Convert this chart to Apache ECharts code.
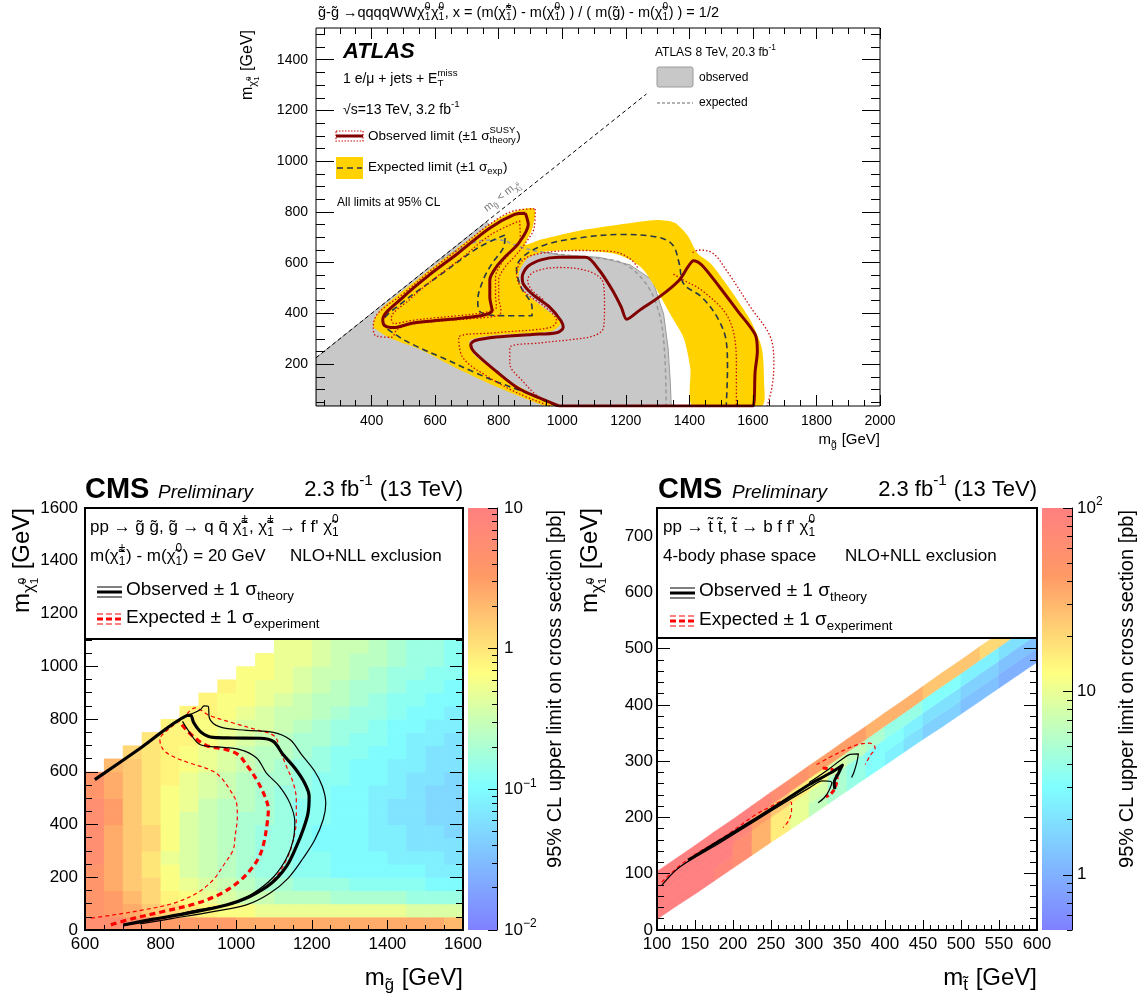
<!DOCTYPE html>
<html>
<head>
<meta charset="utf-8">
<title>SUSY exclusion limits</title>
<script src="https://cdn.jsdelivr.net/npm/echarts@6.0.0/dist/echarts.min.js"></script>
<style>
html,body{margin:0;padding:0;background:#ffffff;}
#chart{width:1145px;height:1005px;}
</style>
</head>
<body>
<div id="chart"></div>
<script>
// ================= DATA (GeV) =================
// ---- ATLAS panel ----
const atlasXTicks = [400, 600, 800, 1000, 1200, 1400, 1600, 1800, 2000];
const atlasYTicks = [200, 400, 600, 800, 1000, 1200, 1400];
const atlas8TeVObsArea = [[225,35],[225,225],[760,760],[877,657],[990,631],[1116,621],[1214,591],[1284,531],[1319,397],[1333,264],[1340,131],[1343,35]];
const atlas8TeVExp = [[600,600],[737,684],[800,690],[863,664],[920,645],[1046,625],[1186,600],[1262,520],[1305,400],[1322,250],[1327,35]];
const atlasExpBand = [[947,35],[793,111],[667,184],[554,257],[456,304],[407,344],[407,371],
  [430,418],[554,543],[695,680],[800,775],[860,806],[905,815],[915,800],[905,731],[884,671],
  [933,691],[1046,724],[1186,751],[1298,768],[1354,757],[1396,704],[1425,637],[1467,597],[1523,504],[1593,371],[1628,264],[1635,131],[1628,35],
  [1411,35],[1403,184],[1382,304],[1340,397],[1298,491],[1256,571],[1214,611],[1158,637],[1046,648],[947,644],[891,617],[863,557],[877,491],[947,417],[996,364],[968,331],[793,315],[709,293],[723,237],[821,144],[933,64],[989,35]];
const atlasExp = [[982,35],[877,91],[793,131],[723,168],[625,224],[540,271],[477,315],[435,364],[484,430],[625,560],[737,660],[821,710],[814,657],[779,597],[751,531],[734,451],[744,404],[821,391],[905,391],[905,424],[870,504],[856,577],[877,624],[947,671],[1074,701],[1186,711],[1298,701],[1347,671],[1368,597],[1382,517],[1439,464],[1488,384],[1516,291],[1520,184],[1516,35]];
const atlasObsLobe = [[884,795],[893,750],[863,677],[821,624],[793,584],[772,531],[772,464],[779,411],[758,395],[681,381],[596,371],[526,361],[470,344],[442,351],[435,375],[500,465],[580,550],[670,635],[770,735],[850,790],[884,795]];
const atlasObsMain = [[989,35],[947,57],[863,104],[793,171],[723,248],[712,277],[726,293],[793,307],[905,317],[982,324],[1003,344],[996,371],[961,424],[905,477],[877,517],[874,544],[891,584],[933,611],[989,621],[1074,621],[1116,571],[1158,491],[1186,424],[1203,377],[1242,411],[1312,471],[1368,531],[1396,584],[1413,608],[1439,591],[1495,504],[1551,411],[1607,317],[1614,251],[1607,171],[1600,35],[989,35]];
const atlasObsUpLobe = [[915,812],[912,740],[884,677],[850,624],[821,584],[800,531],[800,464],[807,411],[800,392],[700,378],[600,368],[526,357],[480,336],[463,306],[414,311],[405,345],[420,400],[500,478],[580,563],[670,650],[770,750],[850,805],[915,812]];
const atlasObsDnLobe = [[866,765],[868,700],[838,640],[810,600],[790,540],[790,470],[793,425],[765,406],[680,392],[596,382],[526,372],[470,360],[462,380],[520,455],[595,535],[680,615],[775,710],[866,765]];
const atlasObsUpMain = [[961,35],[863,84],[765,151],[688,224],[674,304],[793,324],[961,344],[982,371],[947,424],[877,491],[856,557],[877,611],[933,637],[1046,648],[1158,644],[1214,615],[1240,575]];
const atlasObsUpRight = [[1410,640],[1430,650],[1474,637],[1516,571],[1593,424],[1656,304],[1666,197],[1660,110],[1645,35]];
const atlasObsDnMain = [[989,35],[933,64],[877,131],[835,204],[835,264],[933,284],[1031,297],[1102,313],[1130,344],[1133,424],[1130,517],[1088,564],[989,581],[912,564],[891,531],[905,491],[940,455]];
const atlasObsDnRight = [[1350,555],[1382,531],[1439,491],[1516,397],[1544,291],[1548,184],[1548,35]];
const atlasKinLimit = [[225,225],[1265,1265]];

// ---- CMS gluino panel (bottom left) ----
const glXTicks = [600, 800, 1000, 1200, 1400, 1600];
const glYTicks = [0, 200, 400, 600, 800, 1000, 1200, 1400, 1600];
const glBinX = [600,650,700,750,800,850,900,950,1000,1050,1100,1150,1200,1250,1300,1350,1400,1450,1500,1550];
const glBinY = [0,50,100,150,200,250,300,350,400,450,500,550,600,650,700,750,800,850,900,950,1000,1050];
const _ = null;
// log10(limit / pb) x 10, rows from low to high m(chi)
const glLimitRows = [
  [7,7,6,6,5,5,5,5,4,4,4,4,4,4,4,4,4,4,4,3],
  [6,5,4,2,1,0,-1,-2,-2,-3,-3,-3,-3,-3,-3,-3,-3,-4,-4,-4],
  [6,5,3,1,-1,-2,-3,-4,-5,-5,-6,-6,-6,-7,-7,-7,-7,-8,-8,-8],
  [6,4,2,1,-2,-3,-4,-5,-6,-7,-7,-8,-8,-8,-9,-9,-9,-9,-10,-10],
  [6,4,2,0,-2,-4,-5,-6,-7,-8,-8,-9,-9,-10,-10,-10,-10,-10,-11,-11],
  [7,4,2,0,-3,-4,-5,-6,-7,-8,-8,-9,-9,-10,-10,-10,-11,-11,-11,-12],
  [7,4,2,1,-2,-4,-5,-6,-7,-8,-8,-9,-10,-10,-10,-11,-11,-12,-12,-12],
  [7,4,2,1,-2,-4,-5,-6,-7,-8,-8,-9,-10,-10,-10,-11,-11,-12,-12,-13],
  [7,5,2,0,-2,-4,-5,-6,-7,-7,-8,-9,-9,-10,-10,-11,-12,-12,-13,-13],
  [7,5,2,0,-2,-3,-5,-6,-6,-7,-8,-9,-9,-10,-10,-11,-12,-12,-13,-13],
  [6,4,2,0,-2,-3,-4,-5,-6,-7,-8,-8,-9,-10,-10,-11,-11,-12,-13,-13],
  [6,4,2,0,-1,-3,-4,-5,-6,-7,-7,-8,-9,-9,-10,-10,-11,-12,-12,-13],
  [_,3,2,0,-1,-2,-3,-4,-5,-6,-7,-8,-8,-9,-10,-10,-11,-11,-12,-12],
  [_,_,1,0,-1,-2,-3,-4,-5,-6,-6,-7,-8,-9,-9,-10,-10,-11,-12,-12],
  [_,_,_,0,-1,-1,-2,-3,-4,-5,-6,-7,-7,-8,-9,-9,-10,-11,-11,-12],
  [_,_,_,_,-1,-1,-2,-3,-4,-4,-5,-6,-7,-8,-8,-9,-10,-10,-11,-11],
  [_,_,_,_,_,-1,-1,-2,-3,-4,-5,-5,-6,-7,-8,-8,-9,-10,-10,-11],
  [_,_,_,_,_,_,-1,-2,-2,-3,-4,-5,-6,-6,-7,-8,-9,-9,-10,-10],
  [_,_,_,_,_,_,_,-1,-2,-3,-3,-4,-5,-6,-7,-7,-8,-9,-9,-10],
  [_,_,_,_,_,_,_,_,-2,-2,-3,-4,-5,-5,-6,-7,-8,-8,-9,-9],
  [_,_,_,_,_,_,_,_,_,-2,-3,-3,-4,-5,-6,-6,-7,-8,-8,-9],
  [_,_,_,_,_,_,_,_,_,_,-3,-3,-4,-5,-5,-6,-7,-8,-8,-9]
];
const glObs = [[626,570],[750,693],[869,813],[879,815],[888,785],[908,749],[939,730],[992,728],[1063,727],[1098,715],[1124,665],[1155,614],[1181,557],[1193,506],[1190,443],[1177,380],[1159,316],[1133,241],[1093,177],[1036,127],[974,95],[869,63],[781,41],[701,19]];
const glObsUp = [[880,818],[905,835],[915,850],[926,848],[929,804],[957,770],[1027,757],[1098,749],[1142,722],[1173,665],[1208,601],[1228,544],[1237,481],[1230,418],[1208,342],[1177,272],[1137,196],[1089,139],[1027,95],[939,70],[833,44],[745,23]];
const glObsDn = [[858,791],[873,757],[904,703],[948,694],[1010,684],[1054,652],[1080,595],[1115,544],[1142,481],[1155,411],[1151,342],[1133,272],[1098,200],[1045,139],[992,101],[904,78],[798,44],[710,19]];
const glExp = [[856,778],[886,734],[922,699],[974,684],[1005,665],[1027,627],[1054,570],[1076,506],[1085,456],[1082,405],[1073,329],[1061,278],[1041,234],[1010,187],[961,139],[895,101],[807,70],[728,44],[666,19]];
const glExpUp = [[870,820],[891,842],[930,813],[992,785],[1054,759],[1102,734],[1115,684],[1133,620],[1151,557],[1159,494],[1159,418],[1151,342],[1133,266],[1098,190],[1045,133],[992,101],[904,73],[798,41],[720,20]];
const glExpDn = [[851,793],[820,760],[798,722],[807,684],[833,658],[877,633],[930,608],[957,582],[983,532],[1001,481],[1003,430],[997,354],[992,304],[970,253],[939,190],[895,139],[833,101],[754,76],[675,57],[613,44]];

// ---- CMS stop panel (bottom right) ----
const stXTicks = [100, 150, 200, 250, 300, 350, 400, 450, 500, 550, 600];
const stYTicks = [0, 100, 200, 300, 400, 500, 600, 700];
const stBandX    = [100,125,150,175,200,225,250,275,300,325,350,375,400,425,450,475,500,525,550,575,600];
const stBandLow  = [19,42,64,87,110,133,156,178,201,224,247,270,293,316,339,361,384,407,430,453,476];
const stBandHigh = [104,127,150,174,197,221,245,268,292,315,339,362,386,409,433,457,480,504,527,551,574];
// log10(limit / pb) x 10, four slices across the band (low edge -> high edge)
const stLimitCols = [
  [20,20,20,20],[20,20,20,20],[20,20,20,20],[19,20,20,20],[18,18,19,20],
  [15,15,16,19],[12,12,14,18],[10,10,12,17],[8,9,11,16],[7,7,9,16],
  [6,6,8,16],[5,5,7,15],[4,5,6,15],[3,4,6,15],[2,3,5,14],
  [2,3,5,14],[1,2,4,14],[1,2,4,13],[0,1,3,13],[0,1,3,13]
];
const stObs  = [[141,124],[183,159],[227,195],[270,232],[301,259],[328,279],[344,293],[339,279],[333,262],[334,250]];
const stObsA = [[106,79],[130,112],[183,155],[227,192],[270,228],[301,253],[318,265],[330,262],[326,247],[320,235],[312,226]];
const stObsB = [[300,262],[325,285],[342,302],[354,312],[365,313],[363,298],[359,280],[356,271]];
const stExp  = [[318,288],[332,284],[337,270],[334,252],[328,241],[322,237]];
const stExpA = [[106,85],[139,124],[191,168],[231,206],[248,218],[266,229],[277,226],[277,212],[273,194],[266,182]];
const stExpB = [[310,294],[336,313],[363,329],[380,332],[387,324],[380,309],[374,294]];

// ---- colour bars (log10 of pb) ----
const cbGlRange = [-2, 1];
const cbGlMajor = [-2, -1, 0, 1];
const cbStRange = [-0.30103, 2];
const cbStMajor = [0, 1, 2];

// ================= STYLE / HELPERS =================
const FONT = '"Liberation Sans", Arial, Helvetica, sans-serif';
const CHI = '\u03c7\u0303', GLU = 'g\u0303', STP = 't\u0303';
const palStops = [0, 0.34, 0.61, 0.84, 1.0];
const palR = [0.5, 0.5, 1.0, 1.0, 1.0];
const palG = [0.5, 1.0, 1.0, 0.6, 0.5];
const palB = [1.0, 1.0, 0.5, 0.4, 0.5];
function palColor(f) {
  f = Math.max(0, Math.min(1, f));
  let i = 0;
  while (i < palStops.length - 2 && f > palStops[i + 1]) i++;
  const t = (f - palStops[i]) / (palStops[i + 1] - palStops[i]);
  const ch = a => Math.round(255 * (a[i] + (a[i + 1] - a[i]) * t));
  return 'rgb(' + ch(palR) + ',' + ch(palG) + ',' + ch(palB) + ')';
}
const palSamples = [];
for (let i = 0; i <= 60; i++) palSamples.push(palColor(i / 60));
const gradStops = palStops.map(s => ({ offset: 1 - s, color: palColor(s) })).reverse();

function steps(a, b, s) { const r = []; for (let v = a; v <= b + 1e-9; v += s) r.push(+v.toFixed(6)); return r; }
function logMinor(lo, hi) {
  const r = [];
  for (let d = Math.floor(lo) - 1; d <= Math.ceil(hi); d++)
    for (let m = 2; m <= 9; m++) { const v = d + Math.log10(m); if (v > lo && v < hi) r.push(v); }
  return r;
}

const _ctx = document.createElement('canvas').getContext('2d');
function tw(t, fs, o) {
  _ctx.font = (o.fstyle || 'normal') + ' ' + (o.fweight || 'normal') + ' ' + fs + 'px ' + FONT;
  return _ctx.measureText(t).width;
}
function layoutTex(str, fs, o) {
  const items = []; let x = 0, i = 0, buf = '';
  function readGroup() {
    let depth = 0, j = i;
    for (; j < str.length; j++) {
      if (str[j] === '{') depth++;
      else if (str[j] === '}') { depth--; if (depth === 0) break; }
    }
    const inner = str.slice(i + 1, j); i = j + 1; return inner;
  }
  function flush() { if (buf) { items.push({ t: buf, fs: fs, x: x, dy: 0 }); x += tw(buf, fs, o); buf = ''; } }
  while (i < str.length) {
    const c = str[i];
    if ((c === '^' || c === '_') && str[i + 1] === '{') {
      flush(); i++;
      let sup = null, sub = null;
      const first = readGroup();
      if (c === '^') sup = first; else sub = first;
      const c2 = str[i];
      if ((c2 === '^' || c2 === '_') && c2 !== c && str[i + 1] === '{') {
        i++; const second = readGroup();
        if (c2 === '^') sup = second; else sub = second;
      }
      const sfs = fs * 0.7; let w = 0;
      if (sup !== null) { const L = layoutTex(sup, sfs, o); L.items.forEach(it => items.push({ t: it.t, fs: it.fs, x: x + it.x, dy: it.dy - 0.42 * fs })); w = Math.max(w, L.w); }
      if (sub !== null) { const L = layoutTex(sub, sfs, o); L.items.forEach(it => items.push({ t: it.t, fs: it.fs, x: x + it.x, dy: it.dy + 0.32 * fs })); w = Math.max(w, L.w); }
      x += w + fs * 0.04;
    } else { buf += c; i++; }
  }
  flush();
  return { items: items, w: x };
}
function tex(x, y, str, opt) {
  const o = Object.assign({ fs: 14, color: '#000', align: 'left', rot: 0, fstyle: 'normal', fweight: 'normal' }, opt || {});
  const L = layoutTex(str, o.fs, o);
  const off = o.align === 'right' ? L.w : (o.align === 'center' ? L.w / 2 : 0);
  return {
    type: 'group', x: x, y: y, rotation: o.rot, silent: true,
    children: L.items.map(it => ({
      type: 'text', x: it.x - off, y: it.dy, z: 100, silent: true,
      style: { text: it.t, fontSize: it.fs, fontFamily: FONT, fontStyle: o.fstyle, fontWeight: o.fweight, fill: o.color,
        align: 'left', verticalAlign: 'middle', textAlign: 'left', textVerticalAlign: 'middle' }
    }))
  };
}
function gline(x1, y1, x2, y2, stroke, w, dash) {
  return { type: 'line', z: 100, silent: true, shape: { x1: x1, y1: y1, x2: x2, y2: y2 }, style: { stroke: stroke, lineWidth: w, lineDash: dash || null } };
}
function grect(x, y, w, h, fill, stroke, lw, z, dash) {
  return { type: 'rect', z: z || 95, silent: true, shape: { x: x, y: y, width: w, height: h },
    style: { fill: fill || 'none', stroke: stroke || 'none', lineWidth: lw || 0, lineDash: dash || null } };
}

function axis(grid, pos, min, max, vals, len, lab, extra) {
  const o = {
    type: 'value', gridIndex: grid, position: pos, min: min, max: max, offset: 0, z: 50, silent: true,
    axisLine: { show: false, onZero: false },
    splitLine: { show: false }, minorTick: { show: false }, minorSplitLine: { show: false },
    axisTick: { show: true, inside: true, length: len, customValues: vals, lineStyle: { color: '#000', width: 1 } },
    axisLabel: { show: false },
    axisPointer: { show: false }
  };
  if (lab) o.axisLabel = Object.assign({ show: true, customValues: vals, color: '#000', fontFamily: FONT, formatter: v => String(v) }, lab);
  return Object.assign(o, extra || {});
}
function powLabel(v) {
  const r = Math.round(v);
  if (r === 0) return '1';
  if (r === 1) return '10';
  return '10{sup|' + (r < 0 ? '\u2212' + (-r) : r) + '}';
}
const cbRich = { sup: { fontSize: 12, fontFamily: FONT, color: '#000', verticalAlign: 'top', lineHeight: 12 } };

function lineS(xi, yi, pts, color, width, type, z, smooth) {
  return { type: 'line', xAxisIndex: xi, yAxisIndex: yi, data: pts, showSymbol: false, symbol: 'none',
    smooth: smooth == null ? 0.35 : smooth, z: z || 5, silent: true, animation: false,
    lineStyle: { color: color, width: width, type: type || 'solid', cap: 'butt', join: 'round' } };
}
function polyS(xi, yi, pts, fill, stroke, z, smooth) {
  return { type: 'custom', xAxisIndex: xi, yAxisIndex: yi, z: z, clip: true, silent: true, data: [pts[0]],
    renderItem: function (params, api) {
      return { type: 'polygon', shape: { points: pts.map(p => api.coord(p)), smooth: smooth || 0 },
        style: { fill: fill, stroke: stroke || 'none', lineWidth: stroke ? 1 : 0 } };
    } };
}
function cbS(xi, yi, range) {
  return { type: 'custom', xAxisIndex: xi, yAxisIndex: yi, z: 2, silent: true, data: [[0, range[0]]],
    renderItem: function (params, api) {
      const a = api.coord([0, range[1]]), b = api.coord([1, range[0]]);
      return { type: 'rect', shape: { x: a[0], y: a[1], width: b[0] - a[0], height: b[1] - a[1] },
        style: { fill: new echarts.graphic.LinearGradient(0, 0, 0, 1, gradStops) } };
    } };
}

// ---- heat-map cells from the tables ----
const GL_BIN = 50;
const glCells = [];
glLimitRows.forEach((row, r) => row.forEach((v, c) => { if (v !== null) glCells.push([glBinX[c], glBinY[r], v / 10]); }));
const stCells = [];
stLimitCols.forEach((col, c) => col.forEach((v, k) => {
  const la = stBandLow[c], ha = stBandHigh[c], lb = stBandLow[c + 1], hb = stBandHigh[c + 1];
  stCells.push([stBandX[c], stBandX[c + 1], la + (ha - la) * k / 4, la + (ha - la) * (k + 1) / 4, lb + (hb - lb) * k / 4, lb + (hb - lb) * (k + 1) / 4, v / 10]);
}));

// ================= OPTION =================
const RED = '#ff0000', DRED = '#800000', DOT = '#cc1010', SLATE = '#263648', YEL = '#ffd200';
const series = [];
// ATLAS
series.push(polyS(0, 0, atlas8TeVObsArea, '#c8c8c8', '#9a9a9a', 1, 0));
series.push(polyS(0, 0, atlasExpBand, YEL, null, 2, 0.25));
series.push(lineS(0, 0, atlas8TeVExp, '#9a9a9a', 1.5, [4, 3], 3));
series.push(lineS(0, 0, atlasKinLimit, '#000', 1, [4, 3], 3, 0));
series.push(lineS(0, 0, atlasExp, SLATE, 1.6, [6, 4], 4));
[atlasObsUpLobe, atlasObsDnLobe, atlasObsUpMain, atlasObsUpRight, atlasObsDnMain, atlasObsDnRight].forEach(a =>
  series.push(lineS(0, 0, a, DOT, 1.3, [1.5, 2], 4)));
series.push(lineS(0, 0, atlasObsLobe, DRED, 3, 'solid', 5, 0.3));
series.push(lineS(0, 0, atlasObsMain, DRED, 3, 'solid', 5, 0.3));
// CMS gluino
const IDX_GL = series.length;
series.push({ type: 'custom', xAxisIndex: 4, yAxisIndex: 4, z: 1, clip: true, silent: true, data: glCells, encode: { x: 0, y: 1 },
  renderItem: function (params, api) {
    const x0 = api.value(0), y0 = api.value(1);
    const a = api.coord([x0, y0 + GL_BIN]), b = api.coord([x0 + GL_BIN, y0]);
    return { type: 'rect', shape: { x: a[0], y: a[1], width: b[0] - a[0] + 0.6, height: b[1] - a[1] + 0.6 }, style: { fill: api.visual('color') } };
  } });
series.push(lineS(4, 4, glExpUp, RED, 1.2, [4, 3], 4));
series.push(lineS(4, 4, glExpDn, RED, 1.2, [4, 3], 4));
series.push(lineS(4, 4, glExp, RED, 3.2, [6, 4], 4));
series.push(lineS(4, 4, glObsUp, '#000', 1.2, 'solid', 5));
series.push(lineS(4, 4, glObsDn, '#000', 1.2, 'solid', 5));
series.push(lineS(4, 4, glObs, '#000', 3.2, 'solid', 5));
series.push(cbS(6, 8, cbGlRange));
// CMS stop
const IDX_ST = series.length;
series.push({ type: 'custom', xAxisIndex: 7, yAxisIndex: 10, z: 1, clip: true, silent: true, data: stCells, encode: { x: [0, 1], y: [2, 3, 4, 5] },
  renderItem: function (params, api) {
    const pts = [[api.value(0), api.value(2)], [api.value(1), api.value(4)], [api.value(1), api.value(5)], [api.value(0), api.value(3)]].map(q => api.coord(q));
    const col = api.visual('color');
    return { type: 'polygon', shape: { points: pts }, style: { fill: col, stroke: col, lineWidth: 0.6 } };
  } });
series.push(lineS(7, 10, stExpA, RED, 1.2, [4, 3], 4));
series.push(lineS(7, 10, stExpB, RED, 1.2, [4, 3], 4));
series.push(lineS(7, 10, stExp, RED, 3, [5, 3], 4));
series.push(lineS(7, 10, stObsA, '#000', 1.2, 'solid', 5));
series.push(lineS(7, 10, stObsB, '#000', 1.2, 'solid', 5));
series.push(lineS(7, 10, stObs, '#000', 3, 'solid', 5));
series.push(cbS(9, 14, cbStRange));

const xAxis = [
  axis(0, 'bottom', 225, 2000, atlasXTicks, 11, { fontSize: 14, margin: 8 }),
  axis(0, 'bottom', 225, 2000, steps(250, 1950, 50), 6),
  axis(0, 'top', 225, 2000, atlasXTicks, 11),
  axis(0, 'top', 225, 2000, steps(250, 1950, 50), 6),
  axis(1, 'bottom', 600, 1600, glXTicks, 10, { fontSize: 17, margin: 6 }),
  axis(1, 'bottom', 600, 1600, steps(650, 1550, 50), 5),
  { type: 'value', gridIndex: 2, min: 0, max: 1, show: false },
  axis(3, 'bottom', 100, 600, stXTicks, 10, { fontSize: 17, margin: 6 }),
  axis(3, 'bottom', 100, 600, steps(110, 590, 10), 5),
  { type: 'value', gridIndex: 4, min: 0, max: 1, show: false }
];
const yAxis = [
  axis(0, 'left', 35, 1525, atlasYTicks, 18, { fontSize: 14, margin: 8 }),
  axis(0, 'left', 35, 1525, steps(50, 1500, 50), 9),
  axis(0, 'right', 35, 1525, atlasYTicks, 18),
  axis(0, 'right', 35, 1525, steps(50, 1500, 50), 9),
  axis(1, 'left', 0, 1600, glYTicks, 13, { fontSize: 17, margin: 7 }),
  axis(1, 'left', 0, 1600, steps(50, 1550, 50), 7),
  axis(1, 'right', 0, 1600, glYTicks, 13),
  axis(1, 'right', 0, 1600, steps(50, 1550, 50), 7),
  axis(2, 'right', cbGlRange[0], cbGlRange[1], cbGlMajor, 9, { fontSize: 17, margin: 7, formatter: powLabel, rich: cbRich, lineHeight: 24 },
    { axisLine: { show: true, onZero: false, lineStyle: { color: '#000', width: 1 } } }),
  axis(2, 'right', cbGlRange[0], cbGlRange[1], logMinor(cbGlRange[0], cbGlRange[1]), 5),
  axis(3, 'left', 0, 750, stYTicks, 13, { fontSize: 17, margin: 4 }),
  axis(3, 'left', 0, 750, steps(20, 740, 20), 7),
  axis(3, 'right', 0, 750, stYTicks, 13),
  axis(3, 'right', 0, 750, steps(20, 740, 20), 7),
  axis(4, 'right', cbStRange[0], cbStRange[1], cbStMajor, 9, { fontSize: 17, margin: 5, formatter: powLabel, rich: cbRich, lineHeight: 24 },
    { axisLine: { show: true, onZero: false, lineStyle: { color: '#000', width: 1 } } }),
  axis(4, 'right', cbStRange[0], cbStRange[1], logMinor(cbStRange[0], cbStRange[1]), 5)
];
const gridBase = { containLabel: false, outerBoundsMode: 'none', show: false };
const grid = [
  Object.assign({ left: 316, top: 28, width: 564, height: 378 }, gridBase),
  Object.assign({ left: 85, top: 508, width: 378, height: 422 }, gridBase),
  Object.assign({ left: 468, top: 508, width: 29, height: 422 }, gridBase),
  Object.assign({ left: 657, top: 508, width: 380, height: 422 }, gridBase),
  Object.assign({ left: 1042, top: 508, width: 30, height: 422 }, gridBase)
];

const graphics = [
  // frames and legend boxes
  grect(316, 28, 564, 378, null, '#000', 1, 95),
  grect(85, 508, 378, 131, '#fff', '#000', 2, 90),
  grect(85, 508, 378, 422, null, '#000', 2, 96),
  grect(657, 508, 380, 130, '#fff', '#000', 2, 90),
  grect(657, 508, 380, 422, null, '#000', 2, 96),
  // ---- ATLAS texts ----
  tex(318, 13, GLU + '-' + GLU + ' \u2192qqqqWW' + CHI + '^{0}_{1}' + CHI + '^{0}_{1}, x = (m(' + CHI + '^{\u00b1}_{1}) - m(' + CHI + '^{0}_{1}) ) / ( m(' + GLU + ') - m(' + CHI + '^{0}_{1}) ) = 1/2', { fs: 14.5 }),
  tex(248, 30, 'm_{' + CHI + '^{0}_{1}} [GeV]', { fs: 16, rot: Math.PI / 2, align: 'right' }),
  tex(880, 440, 'm_{' + GLU + '} [GeV]', { fs: 15, align: 'right' }),
  tex(343, 52, 'ATLAS', { fs: 22, fweight: 'bold', fstyle: 'italic' }),
  tex(343, 79, '1 e/\u03bc + jets + E^{miss}_{T}', { fs: 14 }),
  tex(343, 110, '\u221as=13 TeV, 3.2 fb^{-1}', { fs: 14 }),
  grect(336, 131, 27, 10, null, DOT, 1.2, 100, [1.5, 1.5]),
  gline(336, 136, 363, 136, DRED, 3),
  tex(368, 136, 'Observed limit (\u00b11 \u03c3^{SUSY}_{theory})', { fs: 13.5 }),
  grect(336, 157, 27, 22, YEL, null, 0, 99),
  gline(337, 168, 362, 168, SLATE, 1.6, [6, 4]),
  tex(368, 167, 'Expected limit (\u00b11 \u03c3_{exp})', { fs: 13.5 }),
  tex(337, 203, 'All limits at 95% CL', { fs: 12 }),
  tex(502, 196, 'm_{' + GLU + '} < m_{' + CHI + '^{0}_{1}}', { fs: 11, color: '#777', rot: 0.674, align: 'center' }),
  tex(655, 53, 'ATLAS 8 TeV, 20.3 fb^{-1}', { fs: 12 }),
  { type: 'rect', z: 100, silent: true, shape: { x: 657, y: 67, width: 36, height: 20, r: 2 }, style: { fill: '#c8c8c8', stroke: '#9a9a9a', lineWidth: 1 } },
  tex(699, 78, 'observed', { fs: 12 }),
  gline(657, 103, 693, 103, '#9a9a9a', 1.5, [3, 2]),
  tex(699, 103, 'expected', { fs: 12 }),
  // ---- CMS gluino texts ----
  tex(85, 490, 'CMS', { fs: 29, fweight: 'bold' }),
  tex(158, 493, 'Preliminary', { fs: 19, fstyle: 'italic' }),
  tex(463, 490, '2.3 fb^{-1} (13 TeV)', { fs: 22, align: 'right' }),
  tex(90, 527, 'pp \u2192 ' + GLU + ' ' + GLU + ', ' + GLU + ' \u2192 q q\u0304 ' + CHI + '^{\u00b1}_{1}, ' + CHI + '^{\u00b1}_{1} \u2192 f f\' ' + CHI + '^{0}_{1}', { fs: 17 }),
  tex(90, 556, 'm(' + CHI + '^{\u00b1}_{1}) - m(' + CHI + '^{0}_{1}) = 20 GeV', { fs: 17 }),
  tex(290, 556, 'NLO+NLL exclusion', { fs: 17 }),
  gline(97, 587, 122, 587, '#000', 1), gline(97, 592, 122, 592, '#000', 3), gline(97, 597, 122, 597, '#000', 1),
  tex(126, 590, 'Observed \u00b1 1 \u03c3_{theory}', { fs: 19 }),
  gline(97, 614, 122, 614, RED, 1.2, [6, 3]), gline(97, 619, 122, 619, RED, 3, [6, 3]), gline(97, 624, 122, 624, RED, 1.2, [6, 3]),
  tex(126, 618, 'Expected \u00b1 1 \u03c3_{experiment}', { fs: 19 }),
  tex(22, 508, 'm_{' + CHI + '^{0}_{1}} [GeV]', { fs: 24, rot: Math.PI / 2, align: 'right' }),
  tex(463, 978, 'm_{' + GLU + '} [GeV]', { fs: 24, align: 'right' }),
  tex(555, 510, '95% CL upper limit on cross section [pb]', { fs: 20, rot: Math.PI / 2, align: 'right' }),
  // ---- CMS stop texts ----
  tex(658, 490, 'CMS', { fs: 29, fweight: 'bold' }),
  tex(732, 493, 'Preliminary', { fs: 19, fstyle: 'italic' }),
  tex(1037, 490, '2.3 fb^{-1} (13 TeV)', { fs: 22, align: 'right' }),
  tex(663, 527, 'pp \u2192 ' + STP + ' ' + STP + ', ' + STP + ' \u2192 b f f\' ' + CHI + '^{0}_{1}', { fs: 17 }),
  tex(663, 556, '4-body phase space', { fs: 17 }),
  tex(845, 556, 'NLO+NLL exclusion', { fs: 17 }),
  gline(670, 588, 695, 588, '#000', 1), gline(670, 593, 695, 593, '#000', 3), gline(670, 598, 695, 598, '#000', 1),
  tex(699, 591, 'Observed \u00b1 1 \u03c3_{theory}', { fs: 19 }),
  gline(670, 616, 695, 616, RED, 1.2, [6, 3]), gline(670, 621, 695, 621, RED, 3, [6, 3]), gline(670, 626, 695, 626, RED, 1.2, [6, 3]),
  tex(699, 620, 'Expected \u00b1 1 \u03c3_{experiment}', { fs: 19 }),
  tex(590, 508, 'm_{' + CHI + '^{0}_{1}} [GeV]', { fs: 24, rot: Math.PI / 2, align: 'right' }),
  tex(1037, 978, 'm_{' + STP + '} [GeV]', { fs: 24, align: 'right' }),
  tex(1127, 510, '95% CL upper limit on cross section [pb]', { fs: 20, rot: Math.PI / 2, align: 'right' })
];

const option = {
  animation: false,
  backgroundColor: '#ffffff',
  textStyle: { fontFamily: FONT },
  grid: grid,
  xAxis: xAxis,
  yAxis: yAxis,
  visualMap: [
    { type: 'continuous', show: false, seriesIndex: IDX_GL, dimension: 2, min: cbGlRange[0], max: cbGlRange[1], inRange: { color: palSamples } },
    { type: 'continuous', show: false, seriesIndex: IDX_ST, dimension: 6, min: cbStRange[0], max: cbStRange[1], inRange: { color: palSamples } }
  ],
  series: series,
  graphic: { elements: graphics }
};
const chart = echarts.init(document.getElementById('chart'), null, { renderer: 'canvas' });
chart.setOption(option);
</script>
</body>
</html>
